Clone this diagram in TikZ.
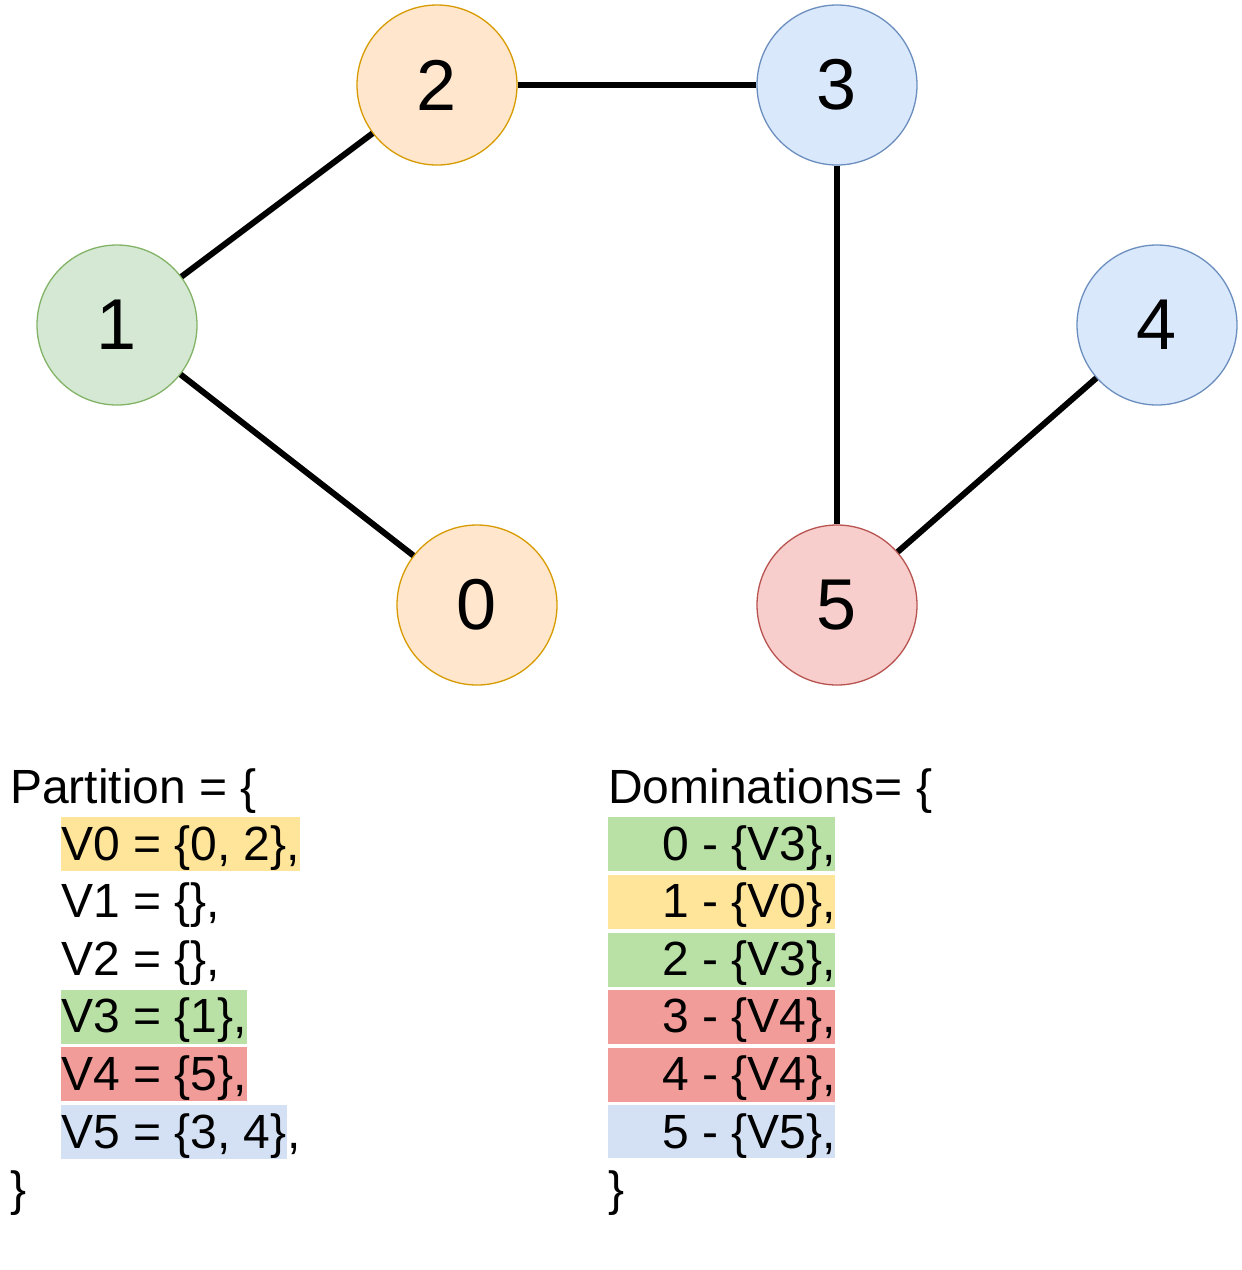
\documentclass[tikz,border=0pt]{standalone}
\usepackage{fontspec}
\setmainfont{Liberation Sans}
\definecolor{orF}{HTML}{FFE6CC}\definecolor{orD}{HTML}{D79B00}
\definecolor{blF}{HTML}{DAE8FC}\definecolor{blD}{HTML}{6C8EBF}
\definecolor{grF}{HTML}{D5E8D4}\definecolor{grD}{HTML}{82B366}
\definecolor{rdF}{HTML}{F8CECC}\definecolor{rdD}{HTML}{B85450}
\definecolor{hlY}{HTML}{FFE599}\definecolor{hlG}{HTML}{B9E0A5}
\definecolor{hlR}{HTML}{F19C99}\definecolor{hlB}{HTML}{D4E1F5}
\tikzset{
  vtx/.style={circle, minimum size=160pt, inner sep=0pt, line width=1.3pt, font=\fontsize{72}{86}\selectfont},
  vor/.style={vtx, fill=orF, draw=orD},
  vbl/.style={vtx, fill=blF, draw=blD},
  vgr/.style={vtx, fill=grF, draw=grD},
  vrd/.style={vtx, fill=rdF, draw=rdD},
  edge/.style={line width=6pt, draw=black},
  txt/.style={anchor=base west, inner sep=0pt, font=\fontsize{48}{57.6}\selectfont},
  hl/.style={txt, text height=43pt, text depth=11pt},
  dbox/.style={inner sep=0pt}
}
\begin{document}
\begin{tikzpicture}[x=1pt, y=-1pt]
\useasboundingbox (0,0) rectangle (1242,1270);
% vertices
\node[vor] (n2) at (437,85) {2};
\node[vbl] (n3) at (837,85) {3};
\node[vgr] (n1) at (117,325) {1};
\node[vbl] (n4) at (1157,325) {4};
\node[vor] (n0) at (477,605) {0};
\node[vrd] (n5) at (837,605) {5};
% edges
\draw[edge] (n1) -- (n2);
\draw[edge] (n1) -- (n0);
\draw[edge] (n2) -- (n3);
\draw[edge] (n3) -- (n5);
\draw[edge] (n5) -- (n4);
% partition
\node[txt] (pt) at (10,803) {Partition = \{};
\node[hl, fill=hlY] (p0) at (61,860) {V0 = \{0, 2\},};
\node[txt] (p1) at (61,917.6) {V1 = \{\},};
\node[txt] (p2) at (61,975.2) {V2 = \{\},};
\node[hl, fill=hlG] (p3) at (61,1032.8) {V3 = \{1\},};
\node[hl, fill=hlR] (p4) at (61,1090.4) {V4 = \{5\},};
\node[hl, fill=hlB] (p5) at (61,1148) {V5 = \{3, 4\}};
\node[txt] (p5c) at (p5.base east) {,};
\node[txt] (pe) at (10,1205) {\}};
% dominations
\node[txt] (dt) at (608,803) {Dominations= \{};
\fill[hlG] (608,817) rectangle (835,871);
\fill[hlY] (608,875) rectangle (835,929);
\fill[hlG] (608,933) rectangle (835,987);
\fill[hlR] (608,990) rectangle (835,1044);
\fill[hlR] (608,1048) rectangle (835,1102);
\fill[hlB] (608,1105) rectangle (835,1158);
\node[txt] (d0) at (662,860) {0 - \{V3\},};
\node[txt] (d1) at (662,917.6) {1 - \{V0\},};
\node[txt] (d2) at (662,975.2) {2 - \{V3\},};
\node[txt] (d3) at (662,1032.8) {3 - \{V4\},};
\node[txt] (d4) at (662,1090.4) {4 - \{V4\},};
\node[txt] (d5) at (662,1148) {5 - \{V5\},};
\node[txt] (de) at (608,1205) {\}};
\end{tikzpicture}
\end{document}
